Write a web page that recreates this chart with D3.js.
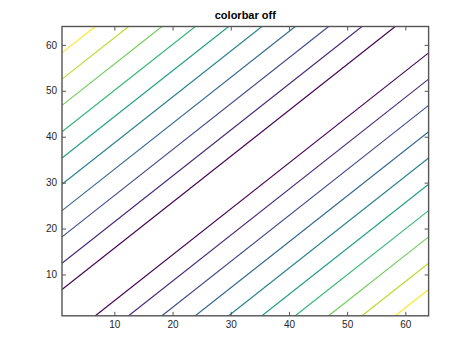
<!DOCTYPE html>
<html><head><meta charset="utf-8">
<script src="https://cdn.jsdelivr.net/npm/d3@7"></script>
<style>body{margin:0;background:#fff}svg{display:block}</style>
</head><body>
<script>
const title = "colorbar off";
const xDomain = [1, 64];
const yDomain = [1, 64];
const xTicks = [10, 20, 30, 40, 50, 60];
const yTicks = [10, 20, 30, 40, 50, 60];
// contour levels of |x - y|
const levels = [5.73, 11.45, 17.18, 22.91, 28.64, 34.36, 40.09, 45.82, 51.55, 57.27];

const W = 474, H = 355;
const m = {left: 62, right: 474 - 428.6, top: 26.5, bottom: 355 - 315.8};
const svg = d3.select("body").append("svg").attr("width", W).attr("height", H);
const x = d3.scaleLinear().domain(xDomain).range([m.left, W - m.right]);
const y = d3.scaleLinear().domain(yDomain).range([H - m.bottom, m.top]);
const color = d3.scaleSequential(d3.interpolateViridis).domain([levels[0], levels[levels.length - 1]]);

const segs = [];
levels.forEach(L => {
  segs.push({L, p: [[xDomain[0], xDomain[0] + L], [yDomain[1] - L, yDomain[1]]]});
  segs.push({L, p: [[xDomain[0] + L, xDomain[0]], [xDomain[1], xDomain[1] - L]]});
});
const line = d3.line().x(d => x(d[0])).y(d => y(d[1]));
svg.append("g").selectAll("path").data(segs).join("path")
  .attr("d", d => line(d.p)).attr("fill", "none")
  .attr("stroke", d => color(d.L)).attr("stroke-width", 1.1);

const axCol = "#555";
const font = "Liberation Sans, Arial, sans-serif";
const fmt = d3.format("d");
function styleAxis(g) {
  g.selectAll(".domain").remove();
  g.selectAll(".tick line").attr("stroke", axCol);
  g.selectAll(".tick text").attr("fill", "#262626").style("font-family", font).style("font-size", "10px");
}
svg.append("g").attr("transform", `translate(0,${H - m.bottom})`)
  .call(d3.axisBottom(x).tickValues(xTicks).tickFormat(fmt).tickSizeInner(-4).tickSizeOuter(0).tickPadding(5)).call(styleAxis);
svg.append("g").attr("transform", `translate(0,${m.top})`)
  .call(d3.axisTop(x).tickValues(xTicks).tickFormat("").tickSizeInner(-4).tickSizeOuter(0)).call(styleAxis);
svg.append("g").attr("transform", `translate(${m.left},0)`)
  .call(d3.axisLeft(y).tickValues(yTicks).tickFormat(fmt).tickSizeInner(-4).tickSizeOuter(0).tickPadding(5)).call(styleAxis);
svg.append("g").attr("transform", `translate(${W - m.right},0)`)
  .call(d3.axisRight(y).tickValues(yTicks).tickFormat("").tickSizeInner(-4).tickSizeOuter(0)).call(styleAxis);

svg.append("rect").attr("x", m.left).attr("y", m.top)
  .attr("width", W - m.right - m.left).attr("height", H - m.bottom - m.top)
  .attr("fill", "none").attr("stroke", axCol).attr("stroke-width", 1.4);

svg.append("text").attr("x", (m.left + W - m.right) / 2).attr("y", 19)
  .attr("text-anchor", "middle").style("font-family", font).style("font-size", "11px")
  .style("font-weight", "bold").attr("fill", "#000").text(title);
</script>
</body></html>
